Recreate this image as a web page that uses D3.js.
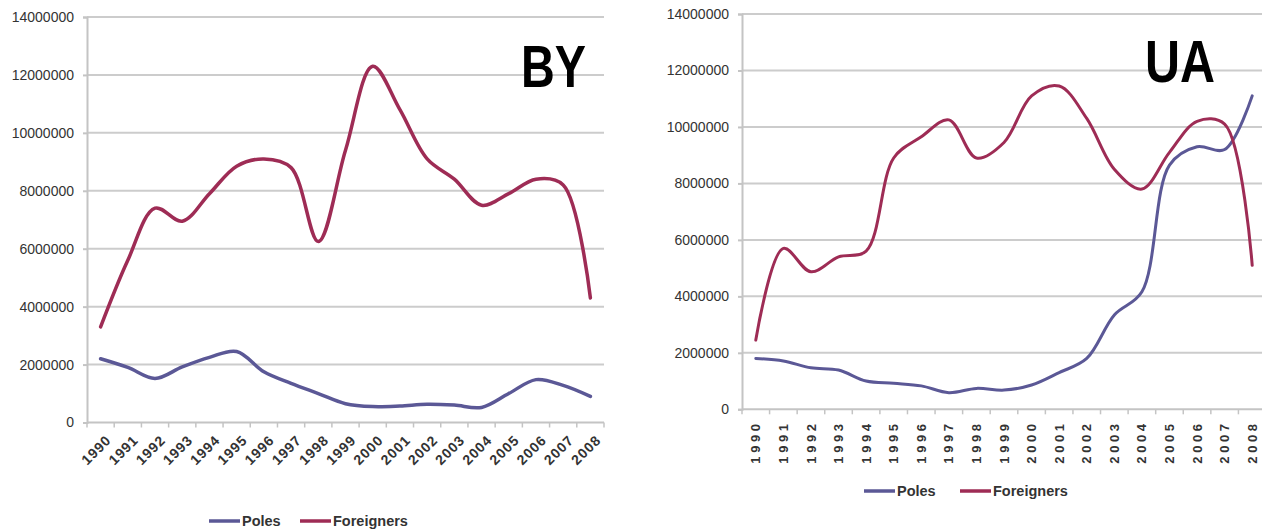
<!DOCTYPE html>
<html>
<head>
<meta charset="utf-8">
<script src="https://cdn.jsdelivr.net/npm/d3@7"></script>
<style>
  html, body { margin: 0; padding: 0; background: #ffffff; }
  svg { display: block; }
  text { font-family: "Liberation Sans", Arial, sans-serif; fill: #333333; }
  text.panel-title { fill: #000000; }
</style>
</head>
<body>
<svg id="chart" width="1265" height="532"></svg>
<script>
// Years on the horizontal axis
const years = [1990, 1991, 1992, 1993, 1994, 1995, 1996, 1997, 1998, 1999,
               2000, 2001, 2002, 2003, 2004, 2005, 2006, 2007, 2008];

// Y axis tick values
const yTicks = [0, 2000000, 4000000, 6000000, 8000000, 10000000, 12000000, 14000000];

// Series names
const seriesNames = ["Poles", "Foreigners"];

// Belarus (BY)
const byPoles = [2200000, 1900000, 1520000, 1920000, 2250000, 2450000, 1750000, 1350000, 1000000, 650000,
                 550000, 570000, 630000, 600000, 520000, 1000000, 1480000, 1280000, 900000];
const byForeigners = [3300000, 5600000, 7400000, 6950000, 7900000, 8850000, 9100000, 8800000, 6250000, 9400000,
                      12300000, 10800000, 9100000, 8400000, 7500000, 7900000, 8400000, 8200000, 4300000];

// Ukraine (UA)
const uaPoles = [1800000, 1710000, 1470000, 1390000, 1000000, 920000, 830000, 590000, 740000, 680000,
                 860000, 1300000, 1800000, 3340000, 4160000, 8650000, 9300000, 9200000, 11100000];
const uaForeigners = [2450000, 5700000, 4870000, 5400000, 5600000, 8900000, 9650000, 10250000, 8900000, 9450000,
                      11100000, 11450000, 10300000, 8500000, 7800000, 9100000, 10200000, 10100000, 5100000];

const colors = { Poles: "#5b5896", Foreigners: "#9e2c55" };

const svg = d3.select("#chart");

function drawPanel(cfg) {
  const g = svg.append("g");
  const x = d3.scaleBand().domain(years).range([cfg.left, cfg.right]).padding(0);
  const y = d3.scaleLinear().domain([0, 14000000]).range([cfg.bottom, cfg.top]);
  const cx = d => x(d) + x.bandwidth() / 2;

  // horizontal gridlines
  g.append("g").selectAll("line").data(yTicks.filter(v => v > 0)).join("line")
    .attr("x1", cfg.left).attr("x2", cfg.gridRight)
    .attr("y1", d => y(d)).attr("y2", d => y(d))
    .attr("stroke", "#cccccc").attr("stroke-width", 2);

  // y axis
  const yAxis = g.append("g").attr("transform", `translate(${cfg.left},0)`)
    .call(d3.axisLeft(y).tickValues(yTicks).tickFormat(d3.format("d"))
      .tickSize(4).tickPadding(cfg.yPad));
  yAxis.select(".domain").attr("stroke", "#c4c4c4").attr("stroke-width", 2);
  yAxis.selectAll(".tick line").attr("stroke", "#c4c4c4").attr("stroke-width", 2);
  yAxis.selectAll(".tick text").attr("font-size", 14).attr("fill", "#333")
    .style("font-family", "'Liberation Sans', Arial, sans-serif");

  // x axis baseline and category boundary ticks
  g.append("line").attr("x1", cfg.left).attr("x2", cfg.gridRight)
    .attr("y1", cfg.bottom).attr("y2", cfg.bottom)
    .attr("stroke", "#c4c4c4").attr("stroke-width", 2);
  const bounds = years.map(d => x(d)).concat([x(years[years.length - 1]) + x.bandwidth()]);
  g.append("g").selectAll("line").data(bounds).join("line")
    .attr("x1", d => d).attr("x2", d => d)
    .attr("y1", cfg.bottom).attr("y2", cfg.bottom + 5)
    .attr("stroke", "#c4c4c4").attr("stroke-width", 1.5);

  // year labels
  const xl = g.append("g");
  if (cfg.rotate === -45) {
    xl.selectAll("text").data(years).join("text")
      .attr("transform", d => `translate(${cx(d) + 8},${cfg.bottom + 15}) rotate(-45)`)
      .attr("text-anchor", "end").attr("dy", "0.35em")
      .attr("font-size", 14).attr("font-weight", "bold").attr("letter-spacing", 1)
      .text(d => d);
  } else {
    xl.selectAll("text").data(years).join("text")
      .attr("transform", d => `translate(${cx(d)},${cfg.bottom + 11}) rotate(-90)`)
      .attr("text-anchor", "end").attr("dy", "0.35em")
      .attr("font-size", 13).attr("font-weight", "bold").attr("letter-spacing", 3.6)
      .text(d => d);
  }

  // smoothed series lines
  const line = d3.line().x((v, i) => cx(years[i])).y(v => y(v)).curve(d3.curveCatmullRom.alpha(0.5));
  [["Poles", cfg.poles], ["Foreigners", cfg.foreigners]].forEach(([name, vals]) => {
    g.append("path").datum(vals).attr("d", line)
      .attr("fill", "none").attr("stroke", colors[name])
      .attr("stroke-width", cfg.lineWidth).attr("stroke-linejoin", "round").attr("stroke-linecap", "round");
  });

  // panel title
  g.append("text").attr("class", "panel-title")
    .attr("x", cfg.titleX).attr("y", cfg.titleY)
    .attr("font-size", 60).attr("font-weight", "bold")
    .attr("textLength", cfg.titleW).attr("lengthAdjust", "spacingAndGlyphs")
    .text(cfg.title);

  // legend
  const lg = g.append("g");
  seriesNames.forEach((name, i) => {
    const lx = cfg.legendX[i];
    lg.append("line").attr("x1", lx).attr("x2", lx + 31)
      .attr("y1", cfg.legendY).attr("y2", cfg.legendY)
      .attr("stroke", colors[name]).attr("stroke-width", 3.5);
    lg.append("text").attr("x", lx + 33).attr("y", cfg.legendY).attr("dy", "0.35em")
      .attr("font-size", 14.5).attr("font-weight", "bold")
      .text(name);
  });
}

drawPanel({
  left: 87, right: 604, gridRight: 604, top: 17, bottom: 422.5, yPad: 9,
  rotate: -45, poles: byPoles, foreigners: byForeigners, lineWidth: 3.5,
  title: "BY", titleX: 521, titleY: 87, titleW: 65,
  legendX: [209, 300], legendY: 521
});

drawPanel({
  left: 742, right: 1266, gridRight: 1262, top: 14, bottom: 409.3, yPad: 9,
  rotate: -90, poles: uaPoles, foreigners: uaForeigners, lineWidth: 3,
  title: "UA", titleX: 1145, titleY: 82, titleW: 70,
  legendX: [864, 960], legendY: 491
});
</script>
</body>
</html>
